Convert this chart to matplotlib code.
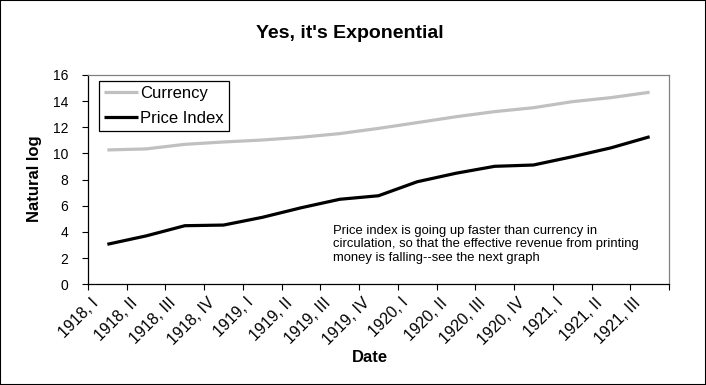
import matplotlib

matplotlib.use("Agg")
import matplotlib.pyplot as plt
import matplotlib.transforms as mtransforms

plt.rcParams["font.family"] = ["Liberation Sans", "DejaVu Sans"]

# quarterly values (natural log)
quarters = [
    "1918, I", "1918, II", "1918, III", "1918, IV",
    "1919, I", "1919, II", "1919, III", "1919, IV",
    "1920, I", "1920, II", "1920, III", "1920, IV",
    "1921, I", "1921, II", "1921, III",
]
currency = [10.27, 10.35, 10.70, 10.88, 11.03, 11.24, 11.52, 11.92,
            12.36, 12.81, 13.20, 13.50, 13.96, 14.27, 14.68]
price_index = [3.06, 3.70, 4.48, 4.53, 5.12, 5.85, 6.50, 6.77,
               7.84, 8.49, 9.02, 9.12, 9.75, 10.43, 11.28]
y_ticks = [0, 2, 4, 6, 8, 10, 12, 14, 16]
note = ("Price index is going up faster than currency in\n"
        "circulation, so that the effective revenue from printing\n"
        "money is falling--see the next graph")

fig = plt.figure(figsize=(7.06, 3.85), dpi=100)
ax = fig.add_axes([0.1246, 0.2615, 0.823, 0.5437])

x = list(range(len(quarters)))
ax.plot(x, currency, color="#C0C0C0", lw=2.3, label="Currency", solid_capstyle="butt")
ax.plot(x, price_index, color="black", lw=2.3, label="Price Index", solid_capstyle="butt")

ax.set_xlim(-0.5, len(quarters) - 0.5)
ax.set_ylim(0, 16)
ax.set_yticks(y_ticks)
ax.tick_params(axis="y", direction="out", length=4.3, width=0.8, pad=10, labelsize=10)

# category labels between tick marks, tick marks on category edges
ax.set_xticks(x)
ax.set_xticklabels(quarters, rotation=45, ha="right", va="center",
                   rotation_mode="anchor", fontsize=11.5)
ax.set_xticks([i - 0.5 for i in range(len(quarters) + 1)], minor=True)
ax.tick_params(axis="x", which="major", length=0, pad=11.5)
ax.tick_params(axis="x", which="minor", direction="out", length=4.3, width=0.8)
shift = mtransforms.ScaledTranslation(-11 / 100, 0, fig.dpi_scale_trans)
for lab in ax.get_xticklabels():
    lab.set_transform(lab.get_transform() + shift)

for side in ("top", "right"):
    ax.spines[side].set_color("#808080")
for side in ("left", "bottom"):
    ax.spines[side].set_color("black")
for sp in ax.spines.values():
    sp.set_linewidth(0.9)

leg = ax.legend(loc="upper left", bbox_to_anchor=(0.0195, 0.973), borderaxespad=0,
                fontsize=12, handlelength=2.0, handletextpad=0.15, labelspacing=0.6,
                borderpad=0.3, fancybox=False, framealpha=1, edgecolor="black")
leg.get_frame().set_linewidth(0.9)

ax.text(0.422, 0.285, note, transform=ax.transAxes, ha="left", va="top",
        fontsize=9.4, linespacing=1.16)

fig.text(350 / 706, 1 - 38.3 / 385, "Yes, it's Exponential", ha="center",
         va="baseline", fontsize=14, fontweight="bold")
fig.text(34 / 706, 1 - 179 / 385, "Natural log", rotation=90, ha="center",
         va="center", fontsize=12, fontweight="bold")
fig.text(370 / 706, 1 - 358 / 385, "Date", ha="center", va="center",
         fontsize=12, fontweight="bold")

fig.add_artist(plt.Rectangle((0, 0), 1, 1, fill=False, ec="black", lw=1.5,
                             transform=fig.transFigure))

fig.savefig("out.png", dpi=100)
plt.close(fig)
